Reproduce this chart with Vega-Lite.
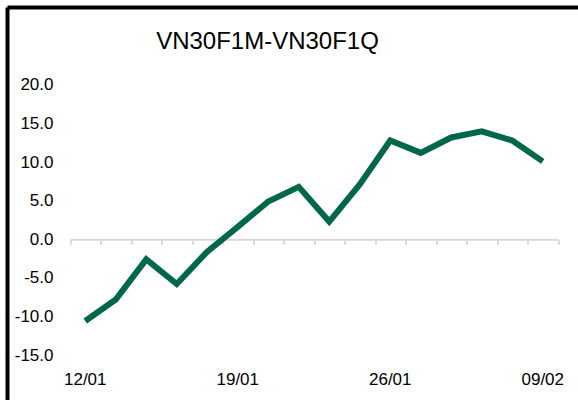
{
  "$schema": "https://vega.github.io/schema/vega-lite/v6.json",
  "autosize": {"type": "none"},
  "padding": {"left": 7.5, "top": 7.5, "right": 0, "bottom": 0},
  "width": 570.5,
  "height": 392.5,
  "background": "white",
  "config": {
    "view": {"stroke": "black", "strokeWidth": 4, "strokeDash": [570.5, 963, 392.5, 0]},
    "font": "Liberation Sans"
  },
  "title": {
    "text": "VN30F1M-VN30F1Q",
    "font": "Liberation Sans",
    "fontSize": 24,
    "fontWeight": "normal",
    "color": "black",
    "anchor": "middle",
    "frame": "group",
    "dx": -25.25,
    "offset": -65,
    "baseline": "alphabetic"
  },
  "data": {
    "values": [
      {"date": "12/01", "value": -10.6},
      {"date": "13/01", "value": -7.8},
      {"date": "14/01", "value": -2.6},
      {"date": "15/01", "value": -5.8},
      {"date": "16/01", "value": -1.6},
      {"date": "19/01", "value": 1.6},
      {"date": "20/01", "value": 4.9},
      {"date": "21/01", "value": 6.8},
      {"date": "22/01", "value": 2.3},
      {"date": "23/01", "value": 7.1},
      {"date": "26/01", "value": 12.8},
      {"date": "27/01", "value": 11.2},
      {"date": "28/01", "value": 13.2},
      {"date": "29/01", "value": 14.0},
      {"date": "30/01", "value": 12.8},
      {"date": "09/02", "value": 10.1}
    ]
  },
  "resolve": {"axis": {"x": "independent"}},
  "layer": [
    {
      "mark": {"type": "line", "strokeOpacity": 0},
      "encoding": {
        "x": {
          "field": "date", "type": "ordinal", "sort": null, "bandPosition": 0.5,
          "scale": {"type": "band", "range": [62.5, 550.5], "paddingInner": 0, "paddingOuter": 0},
          "axis": {
            "orient": "bottom", "offset": -160.7, "labels": false, "title": null, "grid": false,
            "domainColor": "#d9d9d9", "domainWidth": 2,
            "tickColor": "#d9d9d9", "tickWidth": 2, "tickSize": 5, "tickBand": "extent"
          }
        },
        "y": {
          "field": "value", "type": "quantitative",
          "scale": {"domain": [-20.833, 30.046], "nice": false, "zero": false}
        }
      }
    },
    {
      "mark": {"type": "line", "color": "#00674A", "strokeWidth": 6, "strokeCap": "butt", "strokeJoin": "miter"},
      "encoding": {
        "x": {
          "field": "date", "type": "ordinal", "sort": null, "bandPosition": 0.5,
          "scale": {"type": "band", "range": [62.5, 550.5], "paddingInner": 0, "paddingOuter": 0},
          "axis": {
            "orient": "bottom", "offset": -45, "title": null, "grid": false,
            "domain": false, "ticks": false, "tickSize": 0,
            "values": ["12/01", "19/01", "26/01", "09/02"],
            "labelAngle": 0, "labelPadding": 16, "labelFontSize": 17,
            "labelFont": "Liberation Sans", "labelColor": "black"
          }
        },
        "y": {
          "field": "value", "type": "quantitative",
          "scale": {"domain": [-20.833, 30.046], "nice": false, "zero": false},
          "axis": {
            "orient": "left", "offset": -62.5, "title": null, "grid": false,
            "domain": false, "ticks": false, "tickSize": 0,
            "values": [-15, -10, -5, 0, 5, 10, 15, 20],
            "labelExpr": "replace(format(datum.value, '.1f'), '\u2212', '-')",
            "labelPadding": 17, "labelFontSize": 17,
            "labelFont": "Liberation Sans", "labelColor": "black"
          }
        }
      }
    }
  ]
}
